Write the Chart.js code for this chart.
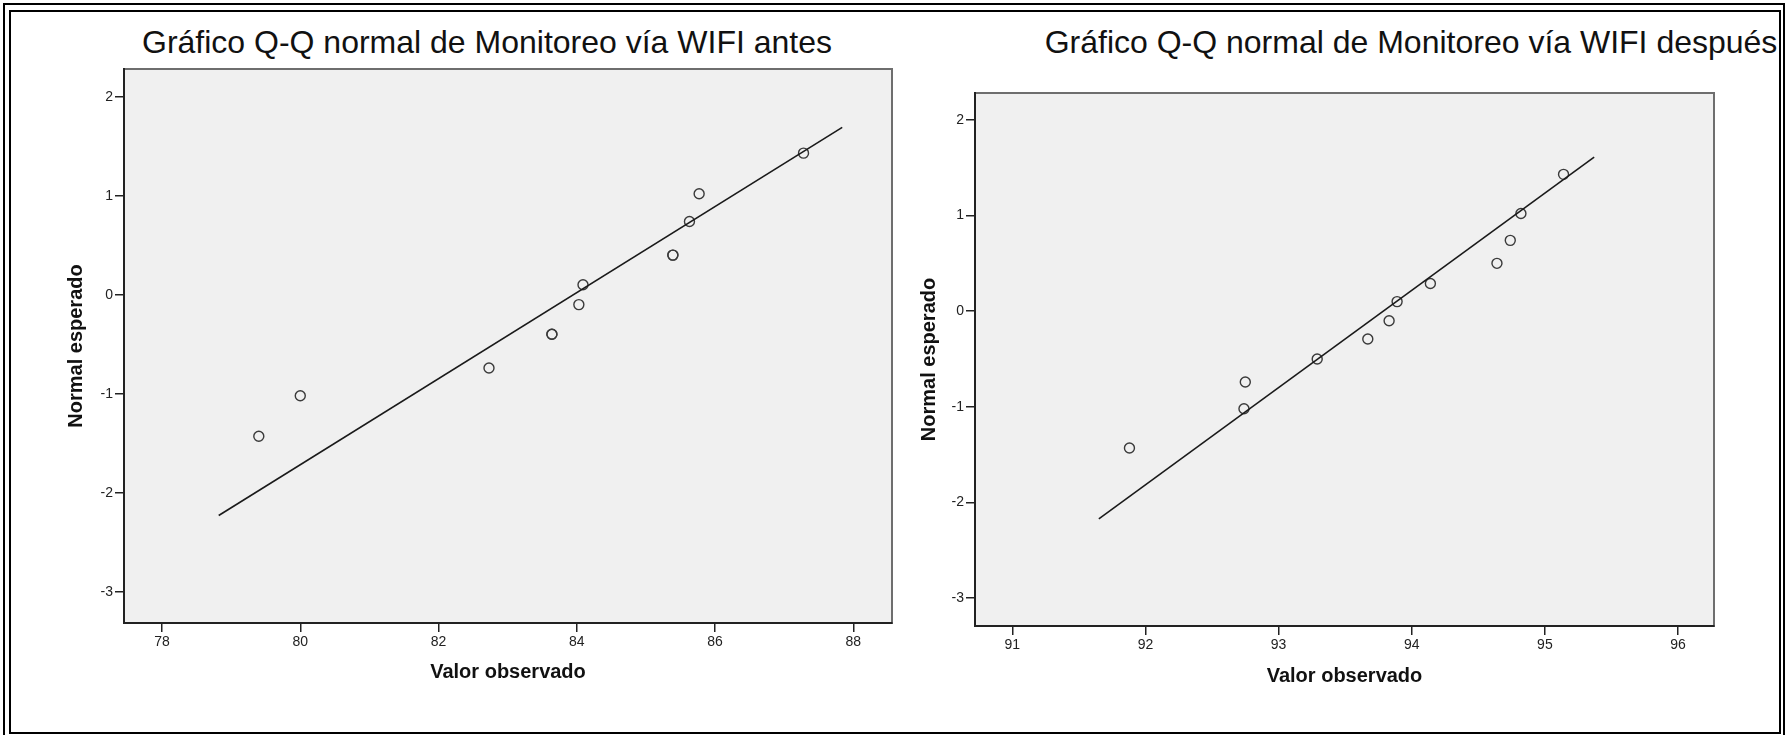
<!DOCTYPE html>
<html>
<head>
<meta charset="utf-8">
<title>Gráfico Q-Q normal de Monitoreo vía WIFI</title>
<script src="https://cdn.jsdelivr.net/npm/chart.js"></script>
<style>
	html, body { margin: 0; padding: 0; background: #fff; }
	body { width: 1786px; height: 735px; position: relative; overflow: hidden; font-family: "Liberation Sans", Arial, sans-serif; }
	.frame-out { position: absolute; left: 3px; top: 3px; width: 1782px; height: 800px; border: 2px solid #000; box-sizing: border-box; }
	.frame-in { position: absolute; left: 9px; top: 10px; width: 1772px; height: 724px; border: 2px solid #000; box-sizing: border-box; }
	.titulo { position: absolute; top: 26px; font-size: 32px; line-height: 32px; color: #111; text-align: center; white-space: nowrap; }
	#t-antes { left: 0; width: 974px; }
	#t-despues { left: 961px; width: 900px; }
	canvas { position: absolute; top: 0; }
	#qqAntes { left: 20px; }
	#qqDespues { left: 900px; }
</style>
</head>
<body>
<div class="frame-out"></div>
<div class="frame-in"></div>
<div class="titulo" id="t-antes">Gráfico Q-Q normal de Monitoreo vía WIFI antes</div>
<div class="titulo" id="t-despues">Gráfico Q-Q normal de Monitoreo vía WIFI después</div>
<canvas id="qqAntes" width="880" height="735"></canvas>
<canvas id="qqDespues" width="880" height="735"></canvas>

<script>
// --- datos: antes ---
var antesObs = [79.40, 80.00, 82.73, 83.64, 83.64, 84.03, 84.09, 85.39, 85.39, 85.63, 85.77, 87.28];
var antesNormal = [-1.43, -1.02, -0.74, -0.40, -0.40, -0.10, 0.10, 0.40, 0.40, 0.74, 1.02, 1.43];
var antesLineaX = [78.82, 87.84];
var antesLineaY = [-2.23, 1.69];
var antesTicksX = [78, 80, 82, 84, 86, 88];

// --- datos: despues ---
var despuesObs = [91.88, 92.74, 92.75, 93.29, 93.67, 93.83, 93.89, 94.14, 94.64, 94.74, 94.82, 95.14];
var despuesNormal = [-1.43, -1.02, -0.74, -0.50, -0.29, -0.10, 0.10, 0.29, 0.50, 0.74, 1.02, 1.43];
var despuesLineaX = [91.65, 95.37];
var despuesLineaY = [-2.17, 1.61];
var despuesTicksX = [91, 92, 93, 94, 95, 96];

var ticksY = [-3, -2, -1, 0, 1, 2];

var fuente = "'Liberation Sans', Arial, sans-serif";

// fondo gris del area del grafico
var fondoPlot = {
	id: 'fondoPlot',
	beforeDraw: function(chart) {
		var a = chart.chartArea, ctx = chart.ctx;
		ctx.save();
		ctx.fillStyle = '#f0f0f0';
		ctx.fillRect(a.left, a.top, a.right - a.left, a.bottom - a.top);
		ctx.strokeStyle = '#6e6e6e';
		ctx.lineWidth = 2;
		ctx.strokeRect(a.left, a.top, a.right - a.left, a.bottom - a.top);
		ctx.restore();
	}
};

function puntos(xs, ys) {
	return xs.map(function(x, i) { return { x: x, y: ys[i] }; });
}

function qqChart(id, c) {
	var config = {
		type: 'scatter',
		data: {
			datasets: [{
				type: 'line',
				data: puntos(c.lineaX, c.lineaY),
				borderColor: '#1a1a1a',
				borderWidth: 1.6,
				pointRadius: 0,
				fill: false
			}, {
				data: puntos(c.obs, c.normal),
				pointRadius: 5,
				pointBorderWidth: 1.4,
				pointBorderColor: '#3a3a3a',
				pointBackgroundColor: 'rgba(0,0,0,0)'
			}]
		},
		options: {
			responsive: false,
			maintainAspectRatio: false,
			animation: false,
			layout: { padding: c.padding },
			plugins: { legend: { display: false }, tooltip: { enabled: false } },
			scales: {
				x: {
					type: 'linear',
					min: c.xMin,
					max: c.xMax,
					afterBuildTicks: function(axis) {
						axis.ticks = c.ticksX.map(function(v) { return { value: v }; });
					},
					afterFit: function(axis) { axis.height = c.altoX; },
					grid: { drawOnChartArea: false, drawTicks: true, tickLength: 9, color: '#222', lineWidth: 1.5 },
					border: { display: true, color: '#222', width: 2 },
					ticks: { color: '#222', font: { family: fuente, size: 14 }, padding: 2, maxRotation: 0, autoSkip: false },
					title: { display: true, text: 'Valor observado', color: '#111', font: { family: fuente, size: 20, weight: 'bold' }, padding: { top: 0, bottom: c.tituloXpad } }
				},
				y: {
					type: 'linear',
					min: c.yMin,
					max: c.yMax,
					afterBuildTicks: function(axis) {
						axis.ticks = ticksY.map(function(v) { return { value: v }; });
					},
					afterFit: function(axis) { axis.width = c.anchoY; },
					grid: { drawOnChartArea: false, drawTicks: true, tickLength: 9, color: '#222', lineWidth: 1.5 },
					border: { display: true, color: '#222', width: 2 },
					ticks: { color: '#222', font: { family: fuente, size: 14 }, padding: 2, autoSkip: false },
					title: { display: true, text: 'Normal esperado', color: '#111', font: { family: fuente, size: 20, weight: 'bold' }, padding: { top: c.tituloYpad, bottom: 0 } }
				}
			}
		},
		plugins: [fondoPlot]
	};
	return new Chart(document.getElementById(id), config);
}

var chartAntes = qqChart('qqAntes', {
	obs: antesObs, normal: antesNormal,
	lineaX: antesLineaX, lineaY: antesLineaY,
	ticksX: antesTicksX,
	xMin: 77.45, xMax: 88.56, yMin: -3.316, yMax: 2.28,
	padding: { left: 0, top: 69, right: 8, bottom: 0 },
	anchoY: 104, altoX: 112,
	tituloXpad: 51, tituloYpad: 44
});

var chartDespues = qqChart('qqDespues', {
	obs: despuesObs, normal: despuesNormal,
	lineaX: despuesLineaX, lineaY: despuesLineaY,
	ticksX: despuesTicksX,
	xMin: 90.72, xMax: 96.27, yMin: -3.29, yMax: 2.28,
	padding: { left: 0, top: 93, right: 66, bottom: 0 },
	anchoY: 75, altoX: 109,
	tituloXpad: 47, tituloYpad: 17
});
</script>
</body>
</html>
